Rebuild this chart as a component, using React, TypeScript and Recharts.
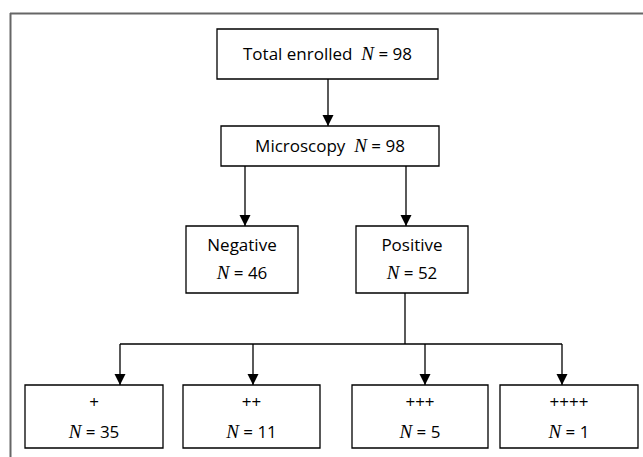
import { ComposedChart, XAxis, YAxis, Scatter, ReferenceArea, ReferenceLine } from 'recharts';

const W = 643;
const H = 457;

// node text and counts
const nodeLabels = ['Total enrolled', 'Microscopy', 'Negative', 'Positive', '+', '++', '+++', '++++'];
const nodeCounts = [98, 98, 46, 52, 35, 11, 5, 1];

// layout of the boxes in chart units (y grows downward)
const boxLeft = [217, 221, 186, 356, 25, 183, 352, 500];
const boxRight = [438, 439, 298, 468, 163, 320, 488, 638];
const boxTop = [29, 126, 226, 226, 385, 385, 385, 385];
const boxBottom = [79, 166, 293, 293, 448, 448, 448, 448];
const inlineLabel = [true, true, false, false, false, false, false, false];

// connector segments: [x1, y1, x2, y2]
const connectors = [
  [328, 79, 328, 126],
  [245, 166, 245, 226],
  [406, 166, 406, 226],
  [405, 293, 405, 344],
  [120, 344, 562, 344],
  [120, 344, 120, 385],
  [253, 344, 253, 385],
  [425, 344, 425, 385],
  [562, 344, 562, 385],
];

// arrow heads sit at the end of each arrow
const arrowTips = [
  { x: 328, y: 126 },
  { x: 245, y: 226 },
  { x: 406, y: 226 },
  { x: 120, y: 385 },
  { x: 253, y: 385 },
  { x: 425, y: 385 },
  { x: 562, y: 385 },
];

const FONT = '"Open Sans", Lato, sans-serif';
const SERIF = '"Liberation Serif", "DejaVu Serif", serif';

const Triangle = (props: any) => {
  const { cx, cy } = props;
  return <path d={`M${cx},${cy} L${cx - 5.5},${cy - 11} L${cx + 5.5},${cy - 11} Z`} fill="#000" />;
};

const NLabel = ({ count }: { count: number }) => (
  <>
    <tspan fontFamily={SERIF} fontStyle="italic" fontSize={19}>N</tspan>
    <tspan>{' = ' + count}</tspan>
  </>
);

const BoxLabel = (props: any) => {
  const { viewBox, index } = props;
  if (!viewBox) return null;
  const { x, y, width, height } = viewBox;
  const cx = x + width / 2;
  const common = { fontFamily: FONT, fontSize: 17, fill: '#000', textAnchor: 'middle' as const };
  if (inlineLabel[index]) {
    return (
      <text {...common} x={cx} y={y + height / 2 + 6} style={{ whiteSpace: 'pre' }}>
        <tspan>{nodeLabels[index] + '  '}</tspan>
        <NLabel count={nodeCounts[index]} />
      </text>
    );
  }
  const big = index < 4;
  return (
    <g>
      <text {...common} x={cx} y={y + (big ? 25 : 23)}>{nodeLabels[index]}</text>
      <text {...common} x={cx} y={y + height - (big ? 14 : 10)} style={{ whiteSpace: 'pre' }}>
        <NLabel count={nodeCounts[index]} />
      </text>
    </g>
  );
};

export default function App() {
  return (
    <div style={{ position: 'absolute', left: 0, top: 0, background: '#fff' }}>
      <ComposedChart width={W} height={H} margin={{ top: 0, right: 0, bottom: 0, left: 0 }}>
        <XAxis type="number" dataKey="x" domain={[0, W]} hide allowDataOverflow />
        <YAxis type="number" dataKey="y" domain={[0, H]} reversed hide allowDataOverflow />

        {/* outer frame */}
        <ReferenceLine segment={[{ x: 10, y: 13.5 }, { x: W, y: 13.5 }]} stroke="#666" strokeWidth={2} ifOverflow="visible" />
        <ReferenceLine segment={[{ x: 10.5, y: 13 }, { x: 10.5, y: H }]} stroke="#666" strokeWidth={2} ifOverflow="visible" />

        {connectors.map((c, i) => (
          <ReferenceLine key={'c' + i} segment={[{ x: c[0], y: c[1] }, { x: c[2], y: c[3] }]} stroke="#000" strokeWidth={1.3} ifOverflow="visible" />
        ))}

        {nodeLabels.map((_, i) => (
          <ReferenceArea
            key={'b' + i}
            x1={boxLeft[i]}
            x2={boxRight[i]}
            y1={boxTop[i]}
            y2={boxBottom[i]}
            fill="#fff"
            fillOpacity={1}
            stroke="#000"
            strokeWidth={1.3}
            ifOverflow="visible"
            label={<BoxLabel index={i} />}
          />
        ))}

        <Scatter data={arrowTips} shape={<Triangle />} isAnimationActive={false} />
      </ComposedChart>
    </div>
  );
}
